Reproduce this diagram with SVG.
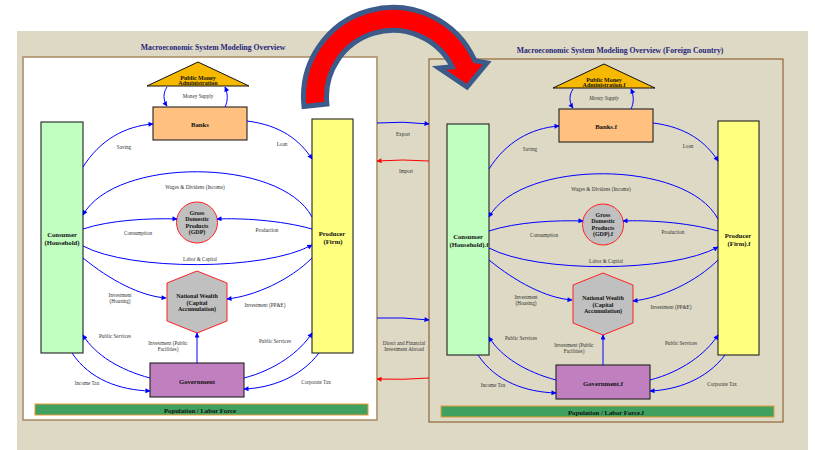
<svg xmlns="http://www.w3.org/2000/svg" width="815" height="450" viewBox="0 0 815 450">
<defs>
<marker id="ab" viewBox="0 0 10 10" refX="9" refY="5" markerWidth="6" markerHeight="5" markerUnits="userSpaceOnUse" orient="auto"><path d="M0,0 L10,5 L0,10 z" fill="#0000ff"/></marker>
<marker id="ar" viewBox="0 0 10 10" refX="9" refY="5" markerWidth="6" markerHeight="5" markerUnits="userSpaceOnUse" orient="auto"><path d="M0,0 L10,5 L0,10 z" fill="#ff0000"/></marker>
</defs>
<style>
text{font-family:"Liberation Serif","Times New Roman",serif;text-anchor:middle;dominant-baseline:central}
.title{font-size:7.7px;font-weight:bold;fill:#1f1f7a}
.nl{font-size:6.7px;font-weight:bold;fill:#111}
.ns{font-size:6px;font-weight:bold;fill:#111}
.el{font-size:5.2px;fill:#333}
.box{stroke:#222;stroke-width:1.1}
.c{fill:none;stroke:#0000ff;stroke-width:1;marker-end:url(#ab)}
.cr{fill:none;stroke:#ff0000;stroke-width:1;marker-end:url(#ar)}
</style>
<rect x="0" y="0" width="815" height="450" fill="#ffffff"/>
<rect x="17" y="31" width="791" height="419" fill="#ddd9c4"/>

<!-- Left panel -->
<g id="panel-home">
<rect x="23" y="57" width="354" height="363" fill="#ffffff" stroke="#ae8e68" stroke-width="1.6"/>
<text class="title" x="213" y="47">Macroeconomic System Modeling Overview</text>
</g>
<g id="pma">
<polygon points="198,62 249,86 147,86" fill="#f7b800" stroke="#111" stroke-width="1"/>
<text class="ns" x="198" y="77.5">Public Money</text>
<text class="ns" x="198" y="82.5">Administration</text>
</g>
<g id="banks"><rect class="box" x="153" y="107" width="94" height="33" fill="#ffc080"/><text class="nl" x="200" y="124">Banks</text></g>
<g id="consumer"><rect class="box" x="41" y="122" width="42" height="231" fill="#c0ffc0"/><text class="nl" x="62" y="234">Consumer</text><text class="nl" x="62" y="242">(Household)</text></g>
<g id="producer"><rect class="box" x="312" y="119" width="41" height="234" fill="#ffff80"/><text class="nl" x="332" y="233">Producer</text><text class="nl" x="333" y="241">(Firm)</text></g>
<g id="gdp"><circle cx="197" cy="222.5" r="20.5" fill="#c0c0c0" stroke="#ff2020" stroke-width="1"/><text class="ns" x="197" y="212.7">Gross</text><text class="ns" x="197" y="219.3">Domestic</text><text class="ns" x="197" y="226">Products</text><text class="ns" x="197" y="232.4">(GDP)</text></g>
<g id="wealth"><polygon points="197,271 227,283 227,321 197,333 167,321 167,283" fill="#c0c0c0" stroke="#ff2020" stroke-width="1"/><text class="ns" x="197" y="296">National Wealth</text><text class="ns" x="197" y="302.7">(Capital</text><text class="ns" x="197" y="309.3">Accumulation)</text></g>
<g id="government"><rect class="box" x="150" y="363" width="94" height="34" fill="#c080c0"/><text class="nl" x="197" y="381">Government</text></g>
<g id="population"><rect x="35" y="404" width="333" height="11" fill="#40a060" stroke="#e89a30" stroke-width="1"/><text class="nl" x="200" y="410">Population / Labor Force</text></g>

<g id="connectors-home">
<path class="c" d="M167,87 C163,93 163,100 167,106"/>
<path class="c" d="M225,107 C228,101 228,94 225,87"/>
<text class="el" x="198" y="96">Money Supply</text>
<path class="c" d="M83,167 C100,140 125,126 153,124"/>
<text class="el" x="124" y="147">Saving</text>
<path class="c" d="M247,121 C280,125 300,140 312,159"/>
<text class="el" x="282" y="144">Loan</text>
<path class="c" d="M312,217 C280,157 115,157 83,215"/>
<text class="el" x="195" y="187">Wages &amp; Dividens (Income)</text>
<path class="c" d="M83,229 C110,220 150,218 177,219"/>
<text class="el" x="138" y="233">Consumption</text>
<path class="c" d="M312,229 C280,220 240,218 217,219"/>
<text class="el" x="267" y="230">Production</text>
<path class="c" d="M83,246 C130,271 265,271 312,245"/>
<text class="el" x="200" y="259">Labor &amp; Capital</text>
<path class="c" d="M83,258 C110,280 140,296 166,298"/>
<text class="el" x="120" y="295">Investment</text><text class="el" x="120" y="301">(Housing)</text>
<path class="c" d="M312,258 C290,280 255,296 227,299"/>
<text class="el" x="265" y="305">Investment (PP&amp;E)</text>
<path class="c" d="M150,378 C120,370 95,355 83,335"/>
<text class="el" x="115" y="336">Public Services</text>
<path class="c" d="M72,353 C90,380 120,390 150,391"/>
<text class="el" x="87" y="383">Income Tax</text>
<path class="c" d="M197,363 L197,333"/>
<text class="el" x="168" y="343">Investment (Public</text><text class="el" x="168" y="349">Facilities)</text>
<path class="c" d="M244,378 C275,370 300,352 312,333"/>
<text class="el" x="275" y="341">Public Services</text>
<path class="c" d="M319,353 C300,378 270,388 244,389"/>
<text class="el" x="316" y="382">Corporate Tax</text>
</g>

<!-- Right panel (foreign) -->
<g transform="translate(406,2)">
<g id="panel-foreign">
<rect x="23" y="57" width="354" height="363" fill="none" stroke="#8b5a2b" stroke-width="1.1"/>
<text class="title" x="214" y="48">Macroeconomic System Modeling Overview (Foreign Country)</text>
</g>
<g id="pma-f">
<polygon points="198,62 249,86 147,86" fill="#f7b800" stroke="#111" stroke-width="1"/>
<text class="ns" x="198" y="77.5">Public Money</text>
<text class="ns" x="198" y="82.5">Administration.f</text>
</g>
<g id="banks-f"><rect class="box" x="153" y="107" width="94" height="33" fill="#ffc080"/><text class="nl" x="200" y="124">Banks.f</text></g>
<g id="consumer-f"><rect class="box" x="41" y="122" width="42" height="231" fill="#c0ffc0"/><text class="nl" x="62" y="234">Consumer</text><text class="nl" x="63" y="242">(Household).f</text></g>
<g id="producer-f"><rect class="box" x="312" y="119" width="41" height="234" fill="#ffff80"/><text class="nl" x="332" y="233">Producer</text><text class="nl" x="333" y="241">(Firm).f</text></g>
<g id="gdp-f"><circle cx="197" cy="222.5" r="20.5" fill="#c0c0c0" stroke="#ff2020" stroke-width="1"/><text class="ns" x="197" y="212.7">Gross</text><text class="ns" x="197" y="219.3">Domestic</text><text class="ns" x="197" y="226">Products</text><text class="ns" x="197" y="232.4">(GDP).f</text></g>
<g id="wealth-f"><polygon points="197,271 227,283 227,321 197,333 167,321 167,283" fill="#c0c0c0" stroke="#ff2020" stroke-width="1"/><text class="ns" x="197" y="296">National Wealth</text><text class="ns" x="197" y="302.7">(Capital</text><text class="ns" x="197" y="309.3">Accumulation)</text></g>
<g id="government-f"><rect class="box" x="150" y="363" width="94" height="34" fill="#c080c0"/><text class="nl" x="197" y="381">Government.f</text></g>
<g id="population-f"><rect x="35" y="404" width="333" height="11" fill="#40a060" stroke="#e89a30" stroke-width="1"/><text class="nl" x="200" y="410">Population / Labor Force.f</text></g>

<g id="connectors-foreign">
<path class="c" d="M167,87 C163,93 163,100 167,106"/>
<path class="c" d="M225,107 C228,101 228,94 225,87"/>
<text class="el" x="198" y="96" font-style="italic">Money Supply</text>
<path class="c" d="M83,167 C100,140 125,126 153,124"/>
<text class="el" x="124" y="147">Saving</text>
<path class="c" d="M247,121 C280,125 300,140 312,159"/>
<text class="el" x="282" y="144">Loan</text>
<path class="c" d="M312,217 C280,157 115,157 83,215"/>
<text class="el" x="195" y="187">Wages &amp; Dividens (Income)</text>
<path class="c" d="M83,229 C110,220 150,218 177,219"/>
<text class="el" x="138" y="233">Consumption</text>
<path class="c" d="M312,229 C280,220 240,218 217,219"/>
<text class="el" x="267" y="230">Production</text>
<path class="c" d="M83,246 C130,271 265,271 312,245"/>
<text class="el" x="200" y="259">Labor &amp; Capital</text>
<path class="c" d="M83,258 C110,280 140,296 166,298"/>
<text class="el" x="120" y="295">Investment</text><text class="el" x="120" y="301">(Housing)</text>
<path class="c" d="M312,258 C290,280 255,296 227,299"/>
<text class="el" x="265" y="305">Investment (PP&amp;E)</text>
<path class="c" d="M150,378 C120,370 95,355 83,335"/>
<text class="el" x="115" y="336">Public Services</text>
<path class="c" d="M72,353 C90,380 120,390 150,391"/>
<text class="el" x="87" y="383">Income Tax</text>
<path class="c" d="M197,363 L197,333"/>
<text class="el" x="168" y="343">Investment (Public</text><text class="el" x="168" y="349">Facilities)</text>
<path class="c" d="M244,378 C275,370 300,352 312,333"/>
<text class="el" x="275" y="341">Public Services</text>
<path class="c" d="M319,353 C300,378 270,388 244,389"/>
<text class="el" x="316" y="382">Corporate Tax</text>
</g>
</g>

<!-- Between countries -->
<g id="connectors-trade">
<path class="c" d="M377,123 Q403,121 429,124"/>
<text class="el" x="403" y="134">Export</text>
<path class="cr" d="M429,161 Q403,159 377,161"/>
<text class="el" x="406" y="171">Import</text>
<path class="c" d="M377,318 Q403,317 429,320"/>
<text class="el" x="404" y="343">Direct and Financial</text>
<text class="el" x="404" y="349">Investment Abroad</text>
<path class="cr" d="M429,378 Q403,380 377,379"/>
</g>

<!-- Big curved arrow -->
<g id="big-arrow">
<path d="M304,106.4 A89.5,89.5 0 0 1 474.8,60.6 L487,63 L467,87 L439,68 L452.3,66.8 A66.5,66.5 0 0 0 326.9,104 Z" fill="#ff0000" stroke="#3c5a8a" stroke-width="5" stroke-linejoin="miter"/>
</g>
</svg>
